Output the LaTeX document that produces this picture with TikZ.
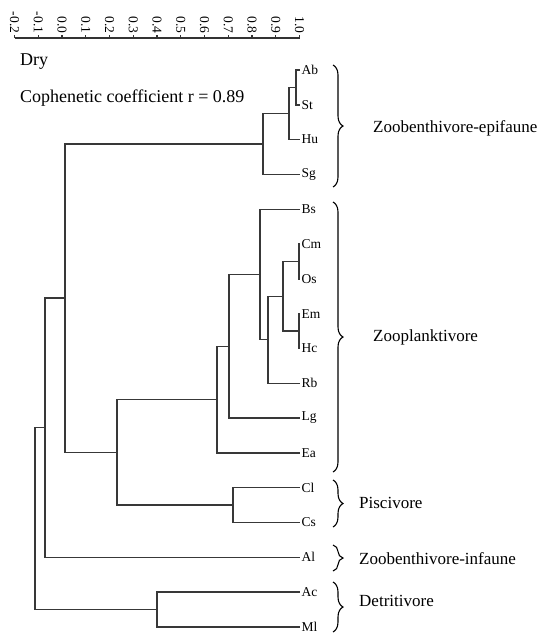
\documentclass[tikz,border=0pt]{standalone}
\usepackage{fontspec}
\setmainfont{Liberation Serif}
\usetikzlibrary{decorations.pathreplacing}
\begin{document}
\begin{tikzpicture}[x=1pt,y=-1pt,
  link/.style={line width=1.4pt, draw=black!78},
  leaf/.style={anchor=west, inner sep=1.5pt, font=\fontsize{13.5}{13.5}\selectfont},
  grp/.style={anchor=west, inner sep=0pt, font=\fontsize{17}{17}\selectfont},
  brc/.style={decorate, decoration={brace, amplitude=10pt}, line width=1.1pt},
  axisline/.style={line width=1.1pt, draw=black!80},
  ticklbl/.style={rotate=-90, anchor=east, inner sep=0pt, font=\fontsize{13.5}{13.5}\selectfont},
  title/.style={anchor=base west, inner sep=0pt, font=\fontsize{18}{18}\selectfont}]
\useasboundingbox (0,0) rectangle (547,635);

% axis
\coordinate (ax0) at (14.5,38);
\coordinate (ax1) at (299.5,38);
\draw[axisline] (ax0) -- (ax1);
\foreach \v/\t [count=\i] in {-0.2/-0.2,-0.1/-0.1,0.0/0.0,0.1/0.1,0.2/0.2,0.3/0.3,0.4/0.4,0.5/0.5,0.6/0.6,0.7/0.7,0.8/0.8,0.9/0.9,1.0/1.0}{
  \coordinate (tk\i) at ({62+237.5*\v},38);
  \coordinate (tt\i) at ({62+237.5*\v},34.5);
  \draw[axisline] (tk\i) -- (tt\i);
  \node[ticklbl] (tl\i) at ({62+237.5*\v},33.5) {\t};
}

\node[title] (dry) at (20,65) {Dry};
\node[title] (coef) at (20,102) {Cophenetic coefficient r = 0.89};

% leaves
\node[leaf] (Ab) at (300,70) {Ab};
\node[leaf] (St) at (300,104.8) {St};
\node[leaf] (Hu) at (300,139.6) {Hu};
\node[leaf] (Sg) at (300,174.4) {Sg};
\node[leaf] (Bs) at (300,209.2) {Bs};
\node[leaf] (Cm) at (300,244) {Cm};
\node[leaf] (Os) at (300,278.8) {Os};
\node[leaf] (Em) at (300,313.6) {Em};
\node[leaf] (Hc) at (300,348.4) {Hc};
\node[leaf] (Rb) at (300,383.2) {Rb};
\node[leaf] (Lg) at (300,418) {Lg};
\node[leaf] (Ea) at (300,452.8) {Ea};
\node[leaf] (Cl) at (300,487.6) {Cl};
\node[leaf] (Cs) at (300,522.4) {Cs};
\node[leaf] (Al) at (300,557.2) {Al};
\node[leaf] (Ac) at (300,592) {Ac};
\node[leaf] (Ml) at (300,626.8) {Ml};

% internal joins
\coordinate (j1) at (296,87.4);
\coordinate (j2) at (289,113.5);
\coordinate (j3) at (263,144);
\coordinate (j4) at (299,261.4);
\coordinate (j5) at (299,331);
\coordinate (j6) at (283,296.2);
\coordinate (j7) at (268,339.7);
\coordinate (j8) at (260,274.5);
\coordinate (j9) at (229,346.2);
\coordinate (j10) at (217,399.5);
\coordinate (j11) at (233,505);
\coordinate (j12) at (117,452.2);
\coordinate (j13) at (65,298.1);
\coordinate (j14) at (45,427.7);
\coordinate (j15) at (157,609.4);
\coordinate (j16) at (35,518.5);

\draw[link] (Ab.west) -| (j1) |- (St.west);
\draw[link] (j1) -| (j2) |- (Hu.west);
\draw[link] (j2) -| (j3) |- (Sg.west);
\draw[link] (Cm.west) -| (j4) |- (Os.west);
\draw[link] (Em.west) -| (j5) |- (Hc.west);
\draw[link] (j4) -| (j6) |- (j5);
\draw[link] (j6) -| (j7) |- (Rb.west);
\draw[link] (Bs.west) -| (j8) |- (j7);
\draw[link] (j8) -| (j9) |- (Lg.west);
\draw[link] (j9) -| (j10) |- (Ea.west);
\draw[link] (Cl.west) -| (j11) |- (Cs.west);
\draw[link] (j10) -| (j12) |- (j11);
\draw[link] (j3) -| (j13) |- (j12);
\draw[link] (j13) -| (j14) |- (Al.west);
\draw[link] (Ac.west) -| (j15) |- (Ml.west);
\draw[link] (j14) -| (j16) |- (j15);

% braces
\coordinate (b1t) at (333,65);  \coordinate (b1b) at (333,187);
\coordinate (b2t) at (333,202); \coordinate (b2b) at (333,472);
\coordinate (b3t) at (333,480); \coordinate (b3b) at (333,527);
\coordinate (b4t) at (333,545); \coordinate (b4b) at (333,571);
\coordinate (b5t) at (333,582); \coordinate (b5b) at (333,632);
\draw[brc] (b1t) -- (b1b);
\draw[brc] (b2t) -- (b2b);
\draw[brc] (b3t) -- (b3b);
\draw[brc] (b4t) -- (b4b);
\draw[brc] (b5t) -- (b5b);

% group labels
\node[grp] (g1) at (373,128) {Zoobenthivore-epifaune};
\node[grp] (g2) at (373,337) {Zooplanktivore};
\node[grp] (g3) at (359,503) {Piscivore};
\node[grp] (g4) at (359,559) {Zoobenthivore-infaune};
\node[grp] (g5) at (359,601) {Detritivore};
\end{tikzpicture}
\end{document}
